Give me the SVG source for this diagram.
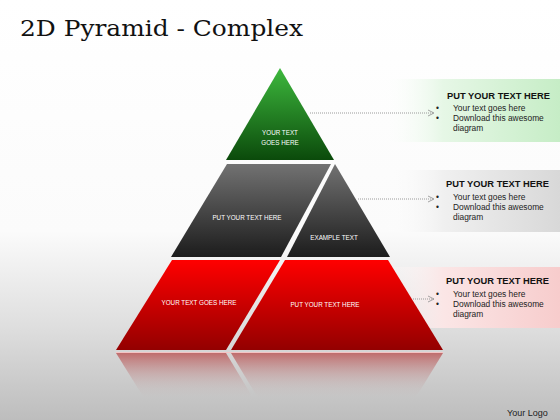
<svg xmlns="http://www.w3.org/2000/svg" width="560" height="420" viewBox="0 0 560 420">
<defs>
<linearGradient id="bg" x1="0" y1="0" x2="0" y2="420" gradientUnits="userSpaceOnUse">
<stop offset="0" stop-color="#ffffff"/><stop offset="0.55" stop-color="#fbfbfb"/><stop offset="0.78" stop-color="#dedede"/><stop offset="1" stop-color="#bdbdbd"/>
</linearGradient>
<linearGradient id="gGreen" x1="0" y1="68" x2="0" y2="160" gradientUnits="userSpaceOnUse">
<stop offset="0" stop-color="#3db83d"/><stop offset="1" stop-color="#0b4a0b"/>
</linearGradient>
<linearGradient id="gGray" x1="0" y1="164" x2="0" y2="257" gradientUnits="userSpaceOnUse">
<stop offset="0" stop-color="#727272"/><stop offset="1" stop-color="#1c1c1c"/>
</linearGradient>
<linearGradient id="gRed" x1="0" y1="260" x2="0" y2="350" gradientUnits="userSpaceOnUse">
<stop offset="0" stop-color="#ff0000"/><stop offset="1" stop-color="#930000"/>
</linearGradient>
<linearGradient id="gRefl" x1="0" y1="353" x2="0" y2="400" gradientUnits="userSpaceOnUse">
<stop offset="0" stop-color="#b84a4a" stop-opacity="0.75"/><stop offset="1" stop-color="#c8c8c8" stop-opacity="0"/>
</linearGradient>
<linearGradient id="bxGreen" x1="0" y1="0" x2="1" y2="0">
<stop offset="0" stop-color="#ffffff" stop-opacity="0"/><stop offset="0.35" stop-color="#e6f7e6"/><stop offset="1" stop-color="#c6edc6"/>
</linearGradient>
<linearGradient id="bxGray" x1="0" y1="0" x2="1" y2="0">
<stop offset="0" stop-color="#ffffff" stop-opacity="0"/><stop offset="0.35" stop-color="#f0f0f0"/><stop offset="1" stop-color="#d8d8d8"/>
</linearGradient>
<linearGradient id="bxRed" x1="0" y1="0" x2="1" y2="0">
<stop offset="0" stop-color="#ffffff" stop-opacity="0"/><stop offset="0.35" stop-color="#fbe6e6"/><stop offset="1" stop-color="#f7cccc"/>
</linearGradient>
<marker id="arr" viewBox="0 0 8 8" refX="7" refY="4" markerWidth="8" markerHeight="8" markerUnits="userSpaceOnUse" orient="auto">
<path d="M1,1 L7,4 L1,7" fill="none" stroke="#999" stroke-width="0.9"/>
</marker>
<style>
.lbl{font-family:"Liberation Sans",Arial,sans-serif;fill:#fff;text-anchor:middle;font-size:6.3px}
.hd{font-family:"Liberation Sans",Arial,sans-serif;font-weight:bold;font-size:9.5px;fill:#111}
.bt{font-family:"Liberation Sans",Arial,sans-serif;font-size:8.4px;fill:#222}
.con{fill:none;stroke:#9a9a9a;stroke-width:1;stroke-dasharray:1,1;marker-end:url(#arr)}
</style>
</defs>
<rect x="0" y="0" width="560" height="420" fill="url(#bg)"/>
<text x="20" y="36" font-family="'DejaVu Serif',serif" font-size="22" fill="#111" textLength="283" lengthAdjust="spacingAndGlyphs">2D Pyramid - Complex</text>

<g id="boxes">
<rect x="380" y="79" width="180" height="63" fill="url(#bxGreen)"/>
<rect x="380" y="170" width="180" height="62" fill="url(#bxGray)"/>
<rect x="380" y="267" width="180" height="61" fill="url(#bxRed)"/>
</g>

<g id="reflection">
<polygon points="116,353 226,353 280,443 172,443" fill="url(#gRefl)"/>
<polygon points="231,353 443,353 388,443 285,443" fill="url(#gRefl)"/>
<line x1="116" y1="352.5" x2="443" y2="352.5" stroke="#f4c4c4" stroke-width="1"/>
</g>

<g id="node-top">
<polygon points="280,68 334,160 226,160" fill="url(#gGreen)"/>
<text class="lbl" x="280" y="135">YOUR TEXT</text>
<text class="lbl" x="280" y="145">GOES HERE</text>
</g>
<g id="node-mid-left">
<polygon points="227,164 331,164 281,257 171,257" fill="url(#gGray)"/>
<text class="lbl" x="247" y="220">PUT YOUR TEXT HERE</text>
</g>
<g id="node-mid-right">
<polygon points="335,164 390,257 287,257" fill="url(#gGray)"/>
<text class="lbl" x="334" y="240">EXAMPLE TEXT</text>
</g>
<g id="node-bot-left">
<polygon points="172,260 280,260 226,350 116,350" fill="url(#gRed)"/>
<text class="lbl" x="199" y="305">YOUR TEXT GOES HERE</text>
</g>
<g id="node-bot-right">
<polygon points="285,260 388,260 443,350 231,350" fill="url(#gRed)"/>
<text class="lbl" x="325" y="307">PUT YOUR TEXT HERE</text>
</g>

<g id="connectors">
<line class="con" x1="310" y1="113" x2="434" y2="113"/>
<line class="con" x1="358" y1="199" x2="434" y2="199"/>
<line class="con" x1="413" y1="299" x2="434" y2="299"/>
</g>

<g id="text-green">
<text class="hd" x="447" y="99" textLength="103" lengthAdjust="spacingAndGlyphs">PUT YOUR TEXT HERE</text>
<text class="bt" x="436" y="111">•</text><text class="bt" x="453" y="111">Your text goes here</text>
<text class="bt" x="436" y="121">•</text><text class="bt" x="453" y="121">Download this awesome</text>
<text class="bt" x="453" y="131">diagram</text>
</g>
<g id="text-gray">
<text class="hd" x="446" y="187" textLength="103" lengthAdjust="spacingAndGlyphs">PUT YOUR TEXT HERE</text>
<text class="bt" x="436" y="200">•</text><text class="bt" x="453" y="200">Your text goes here</text>
<text class="bt" x="436" y="210">•</text><text class="bt" x="453" y="210">Download this awesome</text>
<text class="bt" x="453" y="220">diagram</text>
</g>
<g id="text-red">
<text class="hd" x="446" y="284" textLength="103" lengthAdjust="spacingAndGlyphs">PUT YOUR TEXT HERE</text>
<text class="bt" x="436" y="297">•</text><text class="bt" x="453" y="297">Your text goes here</text>
<text class="bt" x="436" y="307">•</text><text class="bt" x="453" y="307">Download this awesome</text>
<text class="bt" x="453" y="317">diagram</text>
</g>

<text x="507" y="416" font-family="'Liberation Sans',Arial,sans-serif" font-size="9" fill="#222">Your Logo</text>
</svg>
